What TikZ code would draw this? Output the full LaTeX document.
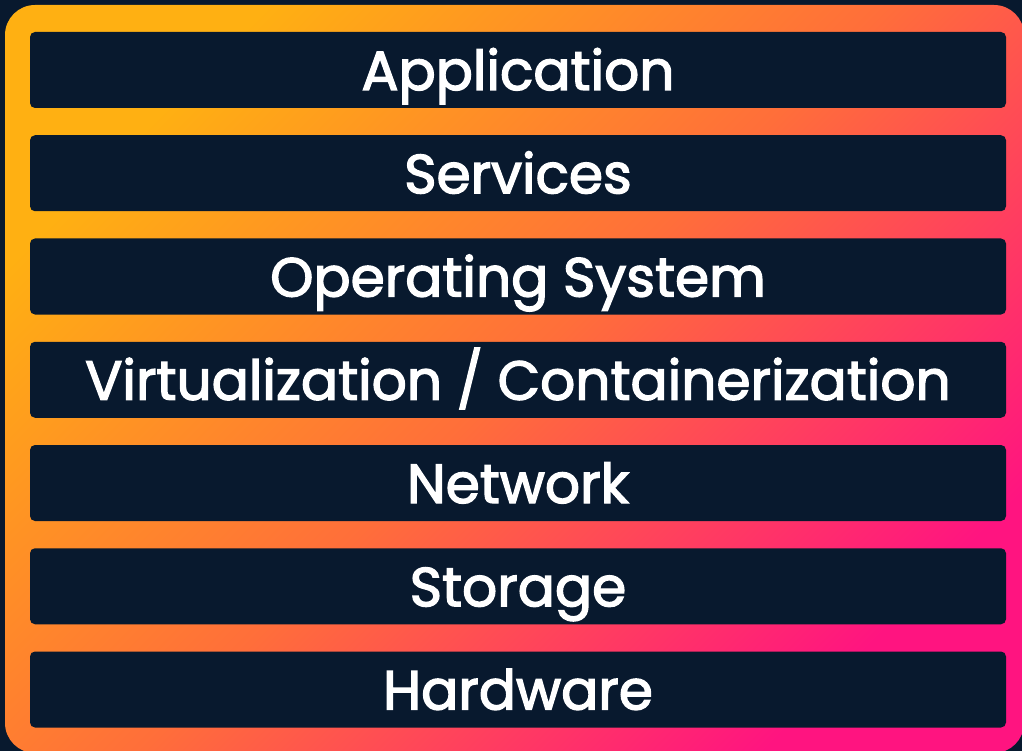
\documentclass[tikz,border=0pt]{standalone}
\usepackage{fontspec}
\usepackage{xcolor}
\usepackage{tikz}
\newfontfamily\layerfont{Poppins}[FakeBold=2.5]
\definecolor{navy}{HTML}{08192E}
\definecolor{amber}{HTML}{FFB012}
\definecolor{tangerine}{HTML}{FF6E3A}
\definecolor{magenta}{HTML}{FF1480}

\begin{document}
\begin{tikzpicture}[x=1pt, y=-1pt,
    layer/.style={fill=navy, text=white, rounded corners=5pt,
        minimum width=976pt, minimum height=76pt, inner sep=0pt,
        text height=40pt, text depth=0pt,
        font=\layerfont\fontsize{55}{60}\selectfont}]
    \fill[navy] (0,0) rectangle (1022,751);
    \useasboundingbox (0,0) rectangle (1022,751);
    \shade[rounded corners=30pt, top color=amber, bottom color=magenta,
        middle color=tangerine, shading angle=45] (5,5) rectangle (1024,753);
    \foreach \lbl [count=\i from 0] in {Application, Services, Operating System,
            Virtualization / Containerization, Network, Storage, Hardware}
        \node[layer] (l\i) at (518,70+103.25*\i) {\lbl};
\end{tikzpicture}
\end{document}
